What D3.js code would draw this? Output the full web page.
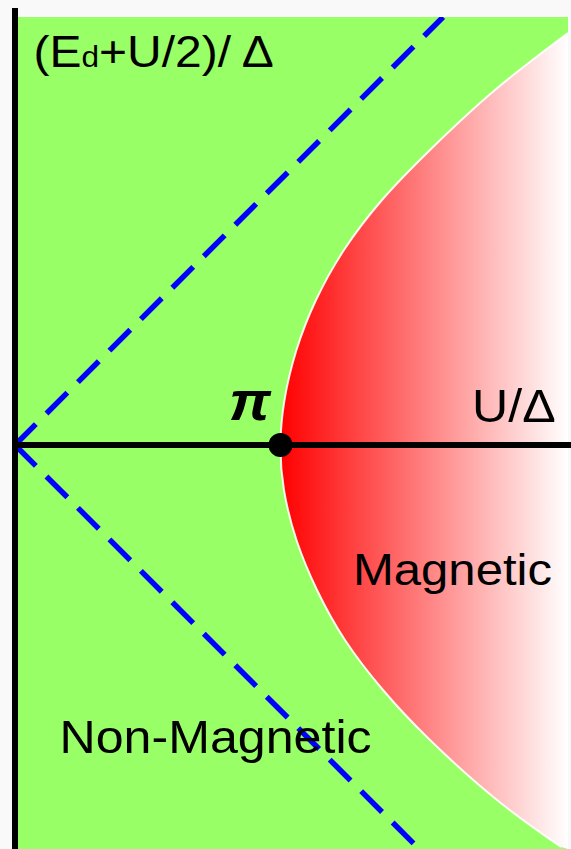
<!DOCTYPE html>
<html>
<head>
<meta charset="utf-8">
<script src="https://cdn.jsdelivr.net/npm/d3@7"></script>
<style>
  html, body { margin: 0; padding: 0; background: #f9f9f9; }
  svg { display: block; }
  text { font-family: "Liberation Sans", Arial, Helvetica, sans-serif; fill: #000; }
</style>
</head>
<body>
<svg id="chart" width="571" height="849"></svg>
<script>
// Plot extents in reduced units: U/Δ across, (Ed+U/2)/Δ up
const uDomain = [0, 6.544];
const eDomain = [-2.391, 2.533];

// Mean-field magnetic phase boundary, sampled top to bottom
const boundaryU = [6.544, 5.680, 4.911, 4.343, 3.893, 3.562, 3.331, 3.189, 3.1416,
                   3.183, 3.331, 3.574, 3.905, 4.355, 4.911, 5.704, 6.462];
const boundaryE = [2.438, 2.101, 1.746, 1.450, 1.154, 0.858, 0.562, 0.266, 0,
                   -0.266, -0.562, -0.858, -1.154, -1.450, -1.746, -2.101, -2.379];

// Guide lines Ed = 0 and Ed = -U
const guideUpperU = [0, 5.066];
const guideUpperE = [0, 2.533];
const guideLowerU = [0, 4.782];
const guideLowerE = [0, -2.391];

// Critical point U = πΔ on the symmetric line
const critical = { u: Math.PI, e: 0 };

const labels = {
  magnetic: "Magnetic",
  nonMagnetic: "Non-Magnetic",
  uAxis: "U/Δ",
  pi: "π"
};

const svg = d3.select("#chart");
const W = 571, H = 849;
const plot = { left: 15, right: 568, top: 17, bottom: 849 };

const x = d3.scaleLinear().domain(uDomain).range([plot.left, plot.right]);
const y = d3.scaleLinear().domain(eDomain).range([plot.bottom, plot.top]);

const defs = svg.append("defs");
defs.append("clipPath").attr("id", "plotClip")
  .append("rect")
  .attr("x", plot.left).attr("y", plot.top)
  .attr("width", plot.right - plot.left).attr("height", plot.bottom - plot.top);

const grad = defs.append("linearGradient")
  .attr("id", "magGrad")
  .attr("gradientUnits", "userSpaceOnUse")
  .attr("x1", x(critical.u)).attr("x2", x(uDomain[1]))
  .attr("y1", 0).attr("y2", 0);
grad.append("stop").attr("offset", 0).attr("stop-color", "#ff0000");
grad.append("stop").attr("offset", 1).attr("stop-color", "#ffffff");

// Non-magnetic background
svg.append("rect")
  .attr("x", plot.left).attr("y", plot.top)
  .attr("width", plot.right - plot.left).attr("height", plot.bottom - plot.top)
  .attr("fill", "#99ff66");

const boundary = boundaryU.map((u, i) => [u, boundaryE[i]]);
const curve = d3.line()
  .x(d => x(d[0])).y(d => y(d[1]))
  .curve(d3.curveNatural);

const g = svg.append("g").attr("clip-path", "url(#plotClip)");

// Magnetic region: boundary closed along the right edge
const first = boundary[0], last = boundary[boundary.length - 1];
const edgeX = x(uDomain[1]) + 10;
g.append("path")
  .attr("d", curve(boundary) + `L${edgeX},${y(last[1]) + 5}L${edgeX},${y(first[1]) - 20}Z`)
  .attr("fill", "url(#magGrad)");

g.append("path")
  .attr("d", curve(boundary))
  .attr("fill", "none")
  .attr("stroke", "#ffffff")
  .attr("stroke-width", 2)
  .attr("stroke-opacity", 0.9);

// Dashed guides from the origin
const guide = d3.line().x(d => x(d[0])).y(d => y(d[1]));
[[guideUpperU, guideUpperE], [guideLowerU, guideLowerE]].forEach(([us, es]) => {
  g.append("path")
    .attr("d", guide(us.map((u, i) => [u, es[i]])))
    .attr("fill", "none")
    .attr("stroke", "#0000ff")
    .attr("stroke-width", 5.5)
    .attr("stroke-dasharray", "29.5,15");
});

// Axes
svg.append("line")
  .attr("x1", x(0)).attr("x2", x(0))
  .attr("y1", 8).attr("y2", H)
  .attr("stroke", "#000").attr("stroke-width", 6);
svg.append("line")
  .attr("x1", x(0)).attr("x2", W)
  .attr("y1", y(0)).attr("y2", y(0))
  .attr("stroke", "#000").attr("stroke-width", 6);

// Critical point
svg.append("circle")
  .attr("cx", x(critical.u)).attr("cy", y(critical.e))
  .attr("r", 12).attr("fill", "#000");

// Labels (text drawn slightly widened)
function label(tx, ty, size) {
  return svg.append("text")
    .attr("transform", `translate(${tx},${ty}) scale(1.09,1)`)
    .attr("font-size", size);
}

const title = label(33.5, 67, 44);
title.append("tspan").text("(E");
title.append("tspan").attr("font-size", 29).text("d");
title.append("tspan").text("+U/2)/");
title.append("tspan").attr("dx", 10).text("Δ");

label(472, 422, 46).text(labels.uAxis);

svg.append("text")
  .attr("transform", `translate(229,420) scale(1.09,1)`)
  .attr("font-family", "'Liberation Serif', 'Times New Roman', serif")
  .attr("font-weight", "bold")
  .attr("font-style", "italic")
  .attr("font-size", 54)
  .text(labels.pi);

label(353, 585, 45).text(labels.magnetic);
label(59.5, 753, 46).text(labels.nonMagnetic);
</script>
</body>
</html>
